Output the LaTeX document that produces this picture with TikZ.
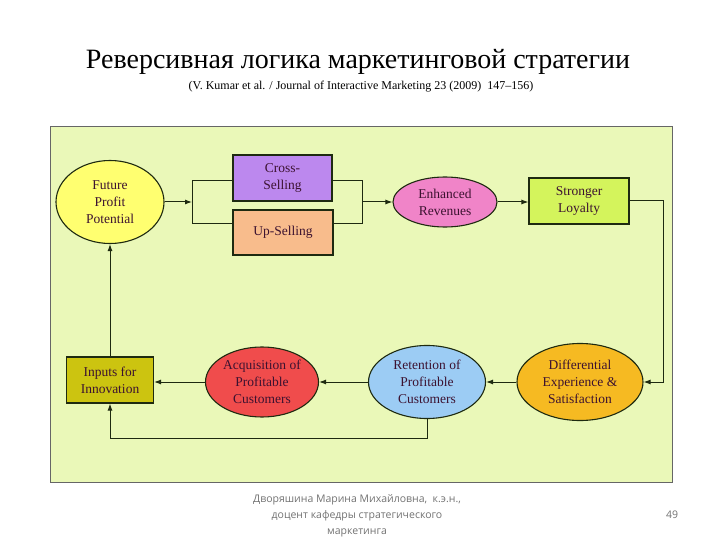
\documentclass[tikz,border=0pt]{standalone}
\usepackage{fontspec}
\setmainfont{Liberation Serif}
\newfontfamily\footfont{Open Sans}
\usetikzlibrary{shapes.geometric,arrows.meta}
\definecolor{panelgreen}{HTML}{EAF8B8}
\definecolor{futurey}{HTML}{FFFF70}
\definecolor{crossp}{HTML}{BC88EE}
\definecolor{upor}{HTML}{F8BC8C}
\definecolor{enhpink}{HTML}{F084C8}
\definecolor{loyalg}{HTML}{D4F45C}
\definecolor{difforange}{HTML}{F6BA22}
\definecolor{retblue}{HTML}{9CCCF4}
\definecolor{acqred}{HTML}{F04C4C}
\definecolor{inpolive}{HTML}{CCC410}
\definecolor{txtdark}{HTML}{3C1230}
\definecolor{linedark}{HTML}{1E2A10}
\tikzset{
  nodetext/.style={font=\fontsize{13.5}{17}\selectfont, text=txtdark, align=center, draw=linedark, line width=1.1pt, inner sep=0pt},
  ellnode/.style={nodetext, ellipse},
  boxnode/.style={nodetext, rectangle},
  conn/.style={draw=linedark, line width=1pt},
  arr/.style={conn, -{Latex[length=7pt,width=5pt]}}
}
\begin{document}
\begin{tikzpicture}[x=1pt,y=-1pt]
\useasboundingbox[fill=white] (0,0) rectangle (720,540);
% title
\node (title) at (358,62) {\fontsize{28}{32}\selectfont Реверсивная логика маркетинговой стратегии};
\node (sub) at (361,87) {\fontsize{12}{14}\selectfont (V. Kumar et al. / Journal of Interactive Marketing 23 (2009) \ 147–156)};
% panel
\node[draw=black!60, line width=0.8pt, fill=panelgreen, minimum width=622pt, minimum height=356pt, inner sep=0pt] (panel) at (361,304) {};
% nodes
\node[ellnode, fill=futurey, minimum width=108pt, minimum height=83pt] (future) at (110,202) {Future\\Profit\\Potential};
\node[boxnode, fill=crossp, minimum width=99pt, minimum height=46pt] (cross) at (282.5,178) {Cross-\\Selling};
\node[boxnode, fill=upor, minimum width=100pt, minimum height=45pt] (up) at (283,232.5) {Up-Selling};
\node[ellnode, fill=enhpink, minimum width=104pt, minimum height=50pt] (enh) at (445,202) {Enhanced\\Revenues};
\node[boxnode, fill=loyalg, minimum width=100pt, minimum height=46pt] (loyal) at (579,201) {Stronger\\Loyalty};
\node[ellnode, fill=difforange, minimum width=126pt, minimum height=77pt] (diff) at (580,382) {Differential\\Experience \&\\Satisfaction};
\node[ellnode, fill=retblue, minimum width=117pt, minimum height=73pt] (ret) at (427,382) {Retention of\\Profitable\\Customers};
\node[ellnode, fill=acqred, minimum width=113pt, minimum height=70pt] (acq) at (262,382) {Acquisition of\\Profitable\\Customers};
\node[boxnode, fill=inpolive, minimum width=87pt, minimum height=46pt] (inp) at (110,380) {Inputs for\\Innovation};
% coordinates
\coordinate (bl) at (192,202);
\coordinate (blt) at (192,181);
\coordinate (blb) at (192,224);
\coordinate (brt) at (362,181);
\coordinate (brb) at (362,224);
\coordinate (br) at (362,202);
\coordinate (rc) at (663,201);
\coordinate (bot) at (427,438);
% connectors
\draw[arr] (future.east) -- (bl);
\draw[conn] (cross.west |- blt) -- (blt) -- (blb) -- (up.west |- blb);
\draw[conn] (cross.east |- brt) -- (brt) -- (brb) -- (up.east |- brb);
\draw[arr] (br) -- (enh.west);
\draw[arr] (enh.east) -- (loyal.west |- enh.east);
\draw[arr] (loyal.east) -- (rc) |- (diff.east);
\draw[arr] (diff.west) -- (ret.east);
\draw[arr] (ret.west) -- (acq.east);
\draw[arr] (acq.west) -- (inp.east |- acq.west);
\draw[arr] (ret.south) -- (bot) -| (inp.south);
\draw[arr] (inp.north) -- (future.south);
% footer
\node[font=\footfont\fontsize{10.5}{16}\selectfont, text=black!55, align=center] (foot) at (357,516) {Дворяшина Марина Михайловна, \ к.э.н.,\\доцент кафедры стратегического\\маркетинга};
\node[font=\footfont\fontsize{10.5}{12}\selectfont, text=black!55] (page) at (672,515) {49};
\end{tikzpicture}
\end{document}
